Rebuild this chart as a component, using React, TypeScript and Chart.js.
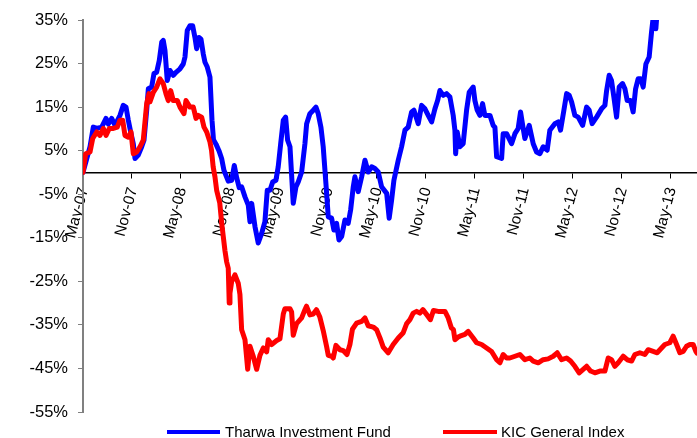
import React, { useEffect, useRef } from "react";
import { Chart, registerables } from "chart.js";

Chart.register(...registerables);

// x values are months since May 2007
const tickMonths = [0, 6, 12, 18, 24, 30, 36, 42, 48, 54, 60, 66, 72];
const tickLabels = [
  "May-07", "Nov-07", "May-08", "Nov-08", "May-09", "Nov-09", "May-10",
  "Nov-10", "May-11", "Nov-11", "May-12", "Nov-12", "May-13",
];
const yTicks = [-55, -45, -35, -25, -15, -5, 5, 15, 25, 35];
const seriesNames = ["Tharwa Investment Fund", "KIC General Index"];
const seriesColors = ["#0000FF", "#FF0000"];

// [month, cumulative return %]
const tharwa: [number, number][] = [
  [0, 0], [0.86, 5.9], [1.26, 10.4], [1.68, 10.1], [2.29, 10.4], [2.82, 12.4], [3.1, 11.1], [3.51, 12.4], [3.92, 10.8], [4.53, 13.1],
  [4.93, 15.4], [5.27, 15.0], [5.55, 12.0], [5.84, 9.3], [6.16, 6.6], [6.37, 3.2], [6.77, 4.0], [7.19, 5.9], [7.47, 7.4], [7.8, 14.3],
  [8.0, 19.2], [8.41, 19.6], [8.69, 22.7], [9.02, 23.0], [9.34, 25.7], [9.64, 29.9], [9.83, 30.3], [10.04, 28.0], [10.32, 21.1], [10.65, 23.4],
  [11.06, 22.3], [11.39, 23.0], [11.88, 23.8], [12.28, 24.9], [12.49, 26.5], [12.77, 32.6], [13.1, 33.7], [13.43, 33.7], [13.71, 31.0], [13.92, 28.4],
  [14.2, 31.0], [14.45, 30.6], [14.73, 27.2], [14.94, 25.3], [15.22, 24.2], [15.55, 21.9], [15.8, 12.0], [15.98, 7.5], [16.29, 6.5], [16.65, 5.0],
  [16.98, 3.2], [17.26, 0.5], [17.79, -2.0], [18.21, -1.8], [18.53, 1.6], [18.82, -1.2], [19.13, -3.5], [19.43, -3.3], [19.84, -5.6], [20.24, -7.5],
  [20.45, -11.3], [20.66, -7.1], [21.06, -12.4], [21.46, -16.2], [21.88, -14.0], [22.28, -11.3], [22.57, -4.1], [22.9, -4.1], [23.23, -2.2], [23.63, -1.8],
  [23.91, 1.3], [24.21, 6.6], [24.53, 12.0], [24.82, 12.7], [25.06, 7.4], [25.35, 5.9], [25.75, -7.1], [26.08, -3.3], [26.36, -2.2], [26.78, 0.1],
  [27.18, 6.6], [27.39, 11.2], [27.79, 13.5], [28.2, 14.3], [28.53, 15.0], [28.81, 13.5], [29.14, 10.4], [29.42, 5.9], [29.75, -2.5], [30.04, -10.2],
  [30.45, -10.5], [30.73, -13.2], [31.06, -11.7], [31.35, -15.5], [31.68, -14.7], [32.08, -10.9], [32.48, -11.7], [32.78, -8.6], [33.1, -3.3], [33.3, -1.0],
  [33.71, -4.4], [34.13, -1.0], [34.53, 2.8], [34.93, 0.1], [35.35, 1.3], [35.75, 0.9], [36.16, 0.1], [36.57, -3.3], [37.19, -4.8], [37.5, -10.5],
  [37.8, -6.3], [38.08, -1.8], [38.61, 2.8], [39.02, 5.9], [39.43, 9.7], [39.83, 10.4], [40.25, 13.9], [40.53, 14.3], [41.06, 11.2], [41.47, 15.4],
  [41.88, 14.6], [42.28, 13.1], [42.7, 11.6], [43.1, 14.6], [43.43, 16.5], [43.71, 18.8], [44.12, 17.7], [44.53, 18.1], [44.94, 17.3], [45.34, 13.1],
  [45.55, 9.7], [45.64, 4.3], [45.83, 9.3], [46.16, 5.9], [46.56, 6.6], [46.98, 14.3], [47.3, 18.4], [47.79, 19.6], [48.0, 16.5], [48.28, 14.3],
  [48.61, 13.1], [48.94, 15.8], [49.22, 13.1], [49.84, 13.1], [50.24, 10.8], [50.45, 10.4], [50.66, 3.6], [51.27, 3.2], [51.46, 8.9], [51.88, 8.9],
  [52.49, 6.6], [52.9, 8.9], [53.3, 10.1], [53.59, 13.9], [53.91, 10.1], [54.12, 7.8], [54.65, 10.8], [55.14, 6.6], [55.55, 4.7], [55.96, 4.3],
  [56.36, 5.9], [56.85, 5.1], [57.18, 9.7], [57.79, 11.2], [58.2, 11.6], [58.49, 9.7], [58.9, 14.3], [59.23, 18.1], [59.55, 17.7], [59.84, 16.2],
  [60.24, 13.1], [60.65, 12.7], [61.19, 10.8], [61.68, 15.0], [61.99, 14.3], [62.36, 11.2], [62.9, 12.7], [63.51, 14.6], [63.92, 15.4], [64.13, 18.8],
  [64.44, 22.3], [64.73, 21.1], [65.02, 17.3], [65.35, 12.7], [65.67, 19.6], [66.08, 20.4], [66.37, 19.2], [66.65, 16.5], [67.06, 16.5], [67.38, 13.9],
  [67.68, 19.2], [67.99, 21.5], [68.32, 21.5], [68.61, 19.6], [68.94, 24.9], [69.34, 26.5], [69.63, 32.2], [69.83, 35.5], [70.04, 36.0], [70.16, 33.0],
  [70.28, 36.0],
];

const kic: [number, number][] = [
  [0, 0], [0.33, 4.3], [0.86, 4.7], [1.19, 7.8], [1.68, 9.3], [2.08, 8.5], [2.49, 10.1], [2.82, 8.5], [3.22, 10.1], [3.71, 10.1],
  [4.2, 10.4], [4.53, 12.0], [4.86, 12.0], [5.14, 8.5], [5.55, 8.1], [5.88, 9.3], [6.16, 4.3], [6.58, 4.7], [6.98, 5.9], [7.38, 7.4],
  [7.8, 15.8], [8.08, 18.1], [8.2, 16.2], [8.61, 18.4], [9.02, 19.6], [9.43, 21.5], [9.83, 20.4], [10.16, 18.1], [10.44, 16.5], [10.74, 18.8],
  [11.06, 16.5], [11.55, 16.5], [11.88, 15.0], [12.37, 13.5], [12.61, 16.5], [13.1, 15.0], [13.51, 15.0], [13.84, 12.4], [14.12, 13.1], [14.53, 12.7],
  [14.82, 10.4], [15.15, 9.3], [15.55, 7.0], [15.74, 5.1], [15.94, 1.3], [16.16, -1.0], [16.37, -4.1], [16.75, -7.0], [16.98, -11.5], [17.18, -14.7],
  [17.39, -18.0], [17.59, -20.5], [17.79, -22.0], [17.91, -30.0], [18.0, -27.7], [18.21, -25.0], [18.61, -23.5], [19.02, -25.5], [19.22, -28.0], [19.43, -36.1],
  [19.84, -38.4], [20.17, -45.2], [20.45, -39.9], [20.85, -42.2], [21.27, -45.2], [21.67, -42.0], [22.08, -40.3], [22.49, -41.2], [22.69, -38.4], [23.11, -39.5],
  [23.72, -38.6], [24.12, -38.2], [24.53, -32.5], [24.73, -31.3], [25.35, -31.3], [25.55, -32.0], [25.75, -37.4], [26.16, -34.7], [26.78, -33.4], [27.18, -31.5],
  [27.37, -30.7], [27.79, -32.7], [28.2, -32.5], [28.59, -31.5], [29.01, -33.2], [29.42, -36.3], [29.84, -40.0], [30.04, -42.0], [30.45, -42.2], [30.65, -42.6],
  [30.98, -39.7], [31.47, -40.7], [31.87, -40.9], [32.33, -41.8], [32.69, -39.5], [33.0, -36.0], [33.51, -34.6], [34.13, -34.2], [34.53, -33.4], [34.93, -35.2],
  [35.55, -35.5], [35.96, -36.1], [36.37, -38.0], [36.77, -40.1], [37.38, -41.4], [37.99, -39.5], [38.61, -38.0], [39.22, -36.8], [39.64, -34.7], [40.04, -33.8],
  [40.44, -32.3], [40.86, -31.9], [41.26, -32.3], [41.63, -31.5], [42.12, -32.7], [42.55, -33.8], [42.92, -31.7], [43.5, -31.9], [44.33, -31.9], [44.73, -33.4],
  [45.12, -35.7], [45.37, -36.1], [45.55, -38.4], [45.95, -37.8], [46.16, -37.6], [46.77, -37.2], [47.18, -36.5], [47.79, -38.0], [48.21, -39.1], [48.82, -39.5],
  [49.43, -40.3], [50.04, -41.1], [50.66, -43.0], [51.06, -43.7], [51.46, -41.8], [51.88, -42.6], [52.28, -42.6], [52.9, -42.2], [53.51, -41.8], [54.12, -43.0],
  [54.73, -42.6], [55.14, -43.3], [55.75, -43.7], [56.36, -43.0], [56.97, -42.8], [57.59, -42.2], [58.08, -41.4], [58.61, -43.0], [59.23, -42.6], [59.72, -43.3],
  [60.24, -44.5], [60.77, -46.0], [61.26, -45.2], [61.68, -44.5], [62.17, -45.6], [62.69, -46.0], [63.3, -45.6], [63.92, -45.6], [64.32, -42.6], [64.73, -43.0],
  [65.14, -44.5], [65.55, -43.7], [66.16, -42.2], [66.65, -43.0], [67.19, -43.3], [67.59, -41.8], [68.2, -41.4], [68.81, -41.8], [69.22, -40.7], [69.83, -41.1],
  [70.32, -41.4], [70.86, -40.3], [71.26, -39.5], [71.87, -39.1], [72.28, -37.6], [72.7, -39.5], [73.1, -41.4], [73.51, -41.1], [73.92, -39.9], [74.33, -39.5],
  [74.73, -39.5], [75.06, -41.1], [75.2, -41.5],
];

const X_MAX = 75.2;
const FONT = '"Liberation Sans", Arial, Helvetica, sans-serif';

export default function App() {
  const canvasRef = useRef<HTMLCanvasElement | null>(null);

  useEffect(() => {
    const canvas = canvasRef.current;
    if (!canvas) return;
    const chart = new Chart(canvas, {
      type: "line",
      data: {
        datasets: [
          {
            label: seriesNames[1],
            data: kic.map(([x, y]) => ({ x, y })),
            borderColor: seriesColors[1],
            backgroundColor: seriesColors[1],
          },
          {
            label: seriesNames[0],
            data: tharwa.map(([x, y]) => ({ x, y })),
            borderColor: seriesColors[0],
            backgroundColor: seriesColors[0],
          },
        ],
      },
      options: {
        responsive: false,
        animation: false,
        devicePixelRatio: 1,
        events: [],
        layout: { padding: { top: 20, bottom: 26, left: 0, right: 0 } },
        elements: {
          point: { radius: 0 },
          line: {
            tension: 0,
            borderWidth: 5,
            borderJoinStyle: "round",
            borderCapStyle: "round",
          },
        },
        plugins: {
          legend: { display: false },
          tooltip: { enabled: false },
        },
        scales: {
          x: {
            type: "linear",
            position: { y: 0 } as any,
            min: 0,
            max: X_MAX,
            afterBuildTicks: (scale: any) => {
              scale.ticks = tickMonths.map((v) => ({ value: v }));
            },
            ticks: {
              autoSkip: false,
              minRotation: 75,
              maxRotation: 75,
              padding: 8,
              labelOffset: 1,
              color: "#000",
              font: { family: FONT, size: 15.5 },
              callback: (v: any) => {
                const i = tickMonths.indexOf(Number(v));
                return i >= 0 ? tickLabels[i] : "";
              },
            },
            grid: {
              drawOnChartArea: false,
              drawTicks: true,
              tickLength: 5,
              color: "#000",
            },
            border: { color: "#000", width: 1.5 },
          },
          y: {
            type: "linear",
            min: -55,
            max: 35,
            afterBuildTicks: (scale: any) => {
              scale.ticks = yTicks.map((v) => ({ value: v }));
            },
            afterFit: (scale: any) => {
              scale.width = 83;
            },
            ticks: {
              padding: 10,
              color: "#000",
              font: { family: FONT, size: 16.5 },
              callback: (v: any) => `${v}%`,
            },
            grid: {
              drawOnChartArea: false,
              drawTicks: true,
              tickLength: 5,
              color: "#808080",
            },
            border: { color: "#808080", width: 2 },
          },
        },
      },
    });
    return () => chart.destroy();
  }, []);

  const legendText: React.CSSProperties = {
    position: "absolute",
    top: 424,
    font: `15px ${FONT}`,
    lineHeight: "15px",
    whiteSpace: "nowrap",
    color: "#000",
  };

  return (
    <div
      style={{
        position: "absolute",
        left: 0,
        top: 0,
        width: 697,
        height: 438,
        overflow: "hidden",
        background: "#fff",
      }}
    >
      <canvas
        ref={canvasRef}
        width={697}
        height={438}
        style={{ display: "block", width: 697, height: 438 }}
      />
      <div style={{ position: "absolute", left: 167, top: 430, width: 53, height: 4, background: seriesColors[0] }} />
      <span style={{ ...legendText, left: 225 }}>{seriesNames[0]}</span>
      <div style={{ position: "absolute", left: 443, top: 430, width: 54, height: 4, background: seriesColors[1] }} />
      <span style={{ ...legendText, left: 501 }}>{seriesNames[1]}</span>
    </div>
  );
}
